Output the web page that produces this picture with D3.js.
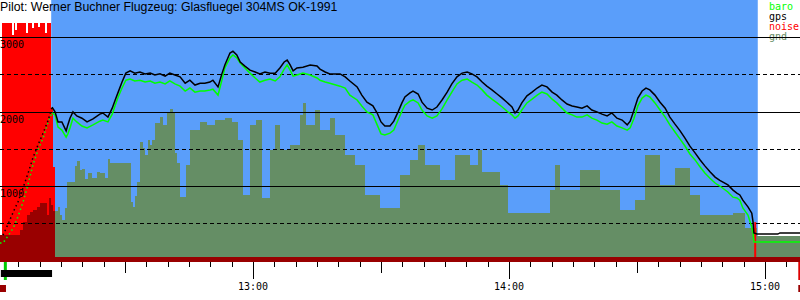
<!DOCTYPE html>
<html>
<head>
<meta charset="utf-8">
<script src="https://cdn.jsdelivr.net/npm/d3@7"></script>
<style>
  body { margin: 0; background: #fff; }
  svg { display: block; }
</style>
</head>
<body>
<div id="chart"></div>
<script>
// flight data, time in minutes after 12:00, altitude in metres
const title = "Pilot: Werner Buchner Flugzeug: Glasfluegel 304MS OK-1991";
const legendNames = ["baro", "gps", "noise", "gnd"];
const legendColors = ["#00ff00", "#000000", "#ff0000", "#658e65"];

const towTime = [0.7, 1.4, 2.6, 3.8, 4.9, 6.1, 7.3, 8.4, 9.6, 10.8, 12.0, 12.9];
const towGps  = [null, 340, 490, 650, 785, 975, 1175, 1375, 1550, 1710, 1885, 2060];
const towBaro = [235, 235, 330, 435, 585, 785, 1025, 1280, 1485, 1645, 1860, 1980];

const flightTime = [12.9, 13.6, 14.3, 15.2, 16.2, 16.6, 17.1, 17.8, 18.7, 19.9, 21.1, 22.5, 24.1, 24.8, 26.0, 27.0, 27.7, 28.4, 29.3, 30.2,
  31.2, 32.3, 33.5, 34.7, 35.9, 37.0, 38.2, 39.4, 40.5, 41.7, 42.9, 44.1, 45.2, 46.4, 47.6, 48.7, 49.9, 50.6, 51.8, 52.7,
  53.4, 54.6, 55.3, 56.2, 57.0, 58.1, 59.3, 60.5, 61.6, 62.8, 64.0, 65.2, 66.3, 67.3, 68.0, 68.7, 69.4, 70.3, 71.7, 73.4,
  75.0, 75.7, 76.9, 78.0, 80.4, 81.6, 82.7, 84.4, 85.5, 86.7, 88.1, 89.1, 90.0, 90.9, 92.1, 93.0, 94.0, 94.9, 95.6, 96.8,
  97.5, 98.7, 99.6, 100.8, 102.0, 103.1, 104.3, 105.5, 106.6, 107.8, 109.0, 110.2, 111.3, 112.5, 113.7, 114.8, 116.0, 117.2, 118.4, 119.5,
  120.7, 121.4, 122.1, 123.0, 124.2, 125.4, 126.6, 127.7, 128.9, 130.1, 131.2, 132.4, 133.6, 134.8, 135.9, 137.1, 138.3, 139.4, 140.6, 141.8,
  143.0, 144.1, 145.3, 146.5, 147.7, 148.4, 149.3, 150.2, 151.2, 152.1, 153.0, 154.2, 155.4, 156.6, 157.7, 158.9, 160.1, 161.2, 162.4, 163.6,
  164.8, 165.9, 167.1, 168.3, 169.4, 171.3, 172.5, 173.4, 174.1, 174.8, 176.0, 176.9, 177.2, 177.4, 178.1, 183.0, 183.5, 188.2];
const flightGps = [2060, 1995, 1860, 1860, 1740, 1820, 1910, 1995, 1940, 1910, 1860, 1900, 1965, 1980, 1925, 2045, 2155, 2260, 2395, 2515,
  2545, 2515, 2530, 2505, 2515, 2490, 2505, 2475, 2515, 2490, 2465, 2380, 2420, 2355, 2380, 2380, 2395, 2420, 2330, 2505,
  2625, 2785, 2810, 2760, 2665, 2610, 2555, 2530, 2505, 2530, 2515, 2515, 2585, 2665, 2690, 2625, 2545, 2585, 2595, 2625,
  2610, 2570, 2530, 2505, 2505, 2465, 2410, 2330, 2220, 2125, 2075, 1980, 1860, 1805, 1805, 1870, 1995, 2115, 2195, 2250,
  2275, 2235, 2125, 2045, 2020, 2060, 2155, 2260, 2370, 2465, 2515, 2530, 2505, 2465, 2395, 2340, 2290, 2235, 2180, 2125,
  2060, 1980, 2020, 2115, 2210, 2260, 2315, 2355, 2330, 2260, 2220, 2155, 2100, 2075, 2060, 2045, 2075, 2020, 1995, 1965,
  1940, 1980, 1910, 1885, 1820, 1870, 2020, 2180, 2275, 2315, 2290, 2220, 2125, 2045, 1925, 1830, 1740, 1645, 1535, 1445,
  1350, 1270, 1190, 1120, 1075, 1015, 945, 905, 880, 810, 720, 635, 515, 370, 355, 355, 370, 370];
const flightBaro = [1980, 1955, 1790, 1750, 1655, 1700, 1780, 1910, 1860, 1805, 1780, 1820, 1870, 1885, 1860, 1965, 2085, 2195, 2315, 2420,
  2435, 2410, 2420, 2395, 2410, 2380, 2395, 2370, 2410, 2370, 2340, 2275, 2315, 2260, 2275, 2275, 2290, 2300, 2220, 2420,
  2585, 2720, 2760, 2720, 2650, 2585, 2515, 2450, 2395, 2420, 2435, 2410, 2465, 2570, 2625, 2555, 2475, 2490, 2515, 2490,
  2450, 2420, 2395, 2380, 2340, 2315, 2220, 2155, 2075, 1995, 1955, 1820, 1700, 1685, 1710, 1750, 1885, 2005, 2085, 2140,
  2155, 2115, 2020, 1940, 1910, 1940, 2035, 2155, 2260, 2370, 2420, 2435, 2395, 2355, 2290, 2220, 2165, 2115, 2060, 2005,
  1955, 1910, 1940, 2020, 2115, 2165, 2220, 2260, 2235, 2165, 2115, 2045, 1980, 1955, 1925, 1925, 1955, 1910, 1885, 1845,
  1830, 1860, 1805, 1780, 1750, 1780, 1910, 2075, 2180, 2220, 2195, 2115, 2020, 1925, 1820, 1725, 1630, 1540, 1430, 1350,
  1255, 1175, 1105, 1040, 1000, 920, 850, 840, 810, 705, 610, 450, 370, 250, 250, 250, 250, 250];

const gndTime = [0.7, 5.4, 6.1, 7.0, 7.7, 8.4, 9.4, 10.1, 11.0, 11.7, 12.2, 12.7, 13.1, 14.3, 14.8, 15.2, 15.9, 16.4, 18.3, 18.7,
  19.5, 19.9, 20.6, 21.3, 22.3, 23.4, 24.1, 25.3, 26.0, 26.5, 31.4, 31.9, 32.3, 32.8, 33.5, 34.2, 34.7, 35.4, 35.9, 36.3,
  37.0, 38.2, 38.9, 39.8, 40.5, 41.2, 41.7, 42.2, 42.9, 44.3, 45.2, 47.6, 49.2, 51.1, 53.4, 55.1, 56.5, 57.7, 59.3, 60.7,
  62.1, 64.0, 65.2, 66.3, 68.7, 71.0, 71.7, 72.4, 74.5, 75.7, 78.0, 79.2, 81.6, 83.9, 86.2, 89.8, 94.5, 96.8, 98.7, 100.3,
  103.8, 107.3, 110.9, 112.7, 113.7, 117.9, 119.8, 129.6, 130.8, 132.0, 136.6, 141.3, 146.0, 149.5, 151.9, 155.4, 158.9, 162.4, 164.8, 167.6,
  172.5, 175.3, 178.1, 188.2];
const gndAlt = [342, 409, 517, 611, 651, 678, 718, 772, 772, 611, 839, 745, 664, 718, 611, 544, 705, 1054, 1268, 1335,
  1215, 1228, 1094, 1174, 1107, 1188, 1174, 1107, 1362, 1308, 785, 718, 866, 1054, 1590, 1510, 1416, 1617, 1550, 1617,
  1845, 1926, 1818, 1993, 2033, 1993, 1443, 1308, 852, 1282, 1751, 1859, 1818, 1885, 1912, 1859, 1617, 879, 1818, 1885,
  839, 1483, 1818, 1483, 1550, 1953, 2114, 1818, 2020, 1751, 1912, 1684, 1416, 1282, 879, 705, 1148, 1349, 1550, 1282,
  1080, 1416, 1282, 1483, 1188, 1013, 637, 946, 1282, 946, 1215, 946, 678, 812, 1416, 1013, 1241, 879, 611, 611,
  637, 436, 329, 329];

const noiseTime = [1.1, 3.5, 3.9, 4.3, 4.6, 6.9, 7.2, 7.4, 7.6, 8.3, 8.6, 9.7, 10.0, 11.25, 11.7, 12.7, 13.1, 13.6];
const noiseVal = [3190, 3025, 3190, 3095, 3190, 3055, 3190, 3025, 3190, 3120, 3190, 3135, 3190, 3055, 3190, 2045, 1255, 0];

const altGrid = [500, 1000, 1500, 2000, 2500, 3000];
const altLabels = [1000, 2000, 3000];
const timeStart = 0.7, timeEnd = 188.2;
const releaseTime = 12.7, landingTime = 178.3;
const landingMark = 177.7, landingMarkAlt = 515;
const takeoffMark = 1.6;
const towBar = [0.9, 12.9];
const engineBar = [0.7, 2.1];
const endMark = 187.8;

const width = 800, height = 300;
const plotBottom = 257;
const base = new Date(2021, 6, 1, 12, 0, 0);
const toDate = m => new Date(+base + m * 60000);

const x = d3.scaleTime()
    .domain([toDate(timeStart), toDate(timeEnd)])
    .range([0, width]);
const y = d3.scaleLinear()
    .domain([0, 3000])
    .range([260.5, 37]);

const svg = d3.select("#chart")
  .append("svg")
    .attr("width", width)
    .attr("height", height);

// blue background while in free flight
svg.append("rect")
    .attr("x", x(toDate(releaseTime)))
    .attr("y", 0)
    .attr("width", x(toDate(landingTime)) - x(toDate(releaseTime)))
    .attr("height", plotBottom)
    .attr("fill", "#5a9efa");

// noise
const noise = noiseTime.map((t, i) => ({ t: toDate(t), v: noiseVal[i] }));
svg.append("path")
    .datum(noise)
    .attr("fill", "#ff0000")
    .attr("shape-rendering", "crispEdges")
    .attr("d", d3.area().curve(d3.curveStepAfter)
      .x(d => x(d.t)).y0(plotBottom).y1(d => y(d.v)));

// ground area, dark red while the engine / tow noise is there
const gnd = gndTime.map((t, i) => ({ t: toDate(t), v: gndAlt[i] }));
const defs = svg.append("defs");
const cut = x(toDate(13.6));
defs.append("clipPath").attr("id", "clipTow")
  .append("rect").attr("x", 0).attr("y", 0).attr("width", cut).attr("height", height);
defs.append("clipPath").attr("id", "clipFree")
  .append("rect").attr("x", cut).attr("y", 0).attr("width", width - cut).attr("height", height);
const gndArea = d3.area().curve(d3.curveStepAfter)
    .x(d => x(d.t)).y0(plotBottom).y1(d => y(d.v));
svg.append("path").datum(gnd)
    .attr("fill", "#990000").attr("clip-path", "url(#clipTow)")
    .attr("shape-rendering", "crispEdges")
    .attr("d", gndArea);
svg.append("path").datum(gnd)
    .attr("fill", "#658e65").attr("clip-path", "url(#clipFree)")
    .attr("shape-rendering", "crispEdges")
    .attr("d", gndArea);

// landing marker
svg.append("line")
    .attr("x1", x(toDate(landingMark))).attr("x2", x(toDate(landingMark)))
    .attr("y1", y(landingMarkAlt)).attr("y2", plotBottom)
    .attr("stroke", "#ff0000").attr("stroke-width", 2);

// legend
svg.selectAll(".legend")
  .data(legendNames)
  .enter().append("text")
    .attr("class", "legend")
    .attr("x", 769)
    .attr("y", (d, i) => 10 + i * 10)
    .attr("fill", (d, i) => legendColors[i])
    .style("font", "10px 'DejaVu Sans Mono', monospace")
    .text(d => d);

// altitude grid
svg.selectAll(".grid")
  .data(altGrid)
  .enter().append("line")
    .attr("x1", 0).attr("x2", width)
    .attr("y1", d => Math.round(y(d)) + 0.5).attr("y2", d => Math.round(y(d)) + 0.5)
    .attr("stroke", "#000")
    .attr("stroke-dasharray", d => d % 1000 ? "4,3" : null);

svg.selectAll(".altlabel")
  .data(altLabels)
  .enter().append("text")
    .attr("x", 0)
    .attr("y", d => Math.round(y(d)) + 11)
    .style("font", "10px 'DejaVu Sans Mono', monospace")
    .text(d => d);

// altitude traces
const line = d3.line()
    .defined(d => d.v != null)
    .x(d => x(d.t)).y(d => y(d.v));
const towG = towTime.map((t, i) => ({ t: toDate(t), v: towGps[i] }));
const towB = towTime.map((t, i) => ({ t: toDate(t), v: towBaro[i] }));
const fG = flightTime.map((t, i) => ({ t: toDate(t), v: flightGps[i] }));
const fB = flightTime.map((t, i) => ({ t: toDate(t), v: flightBaro[i] }));

svg.append("path").datum(towB)
    .attr("fill", "none").attr("stroke", "#00ff00").attr("stroke-width", 1.5)
    .attr("stroke-dasharray", "1.5,3").attr("d", line);
svg.append("path").datum(towG)
    .attr("fill", "none").attr("stroke", "#000").attr("stroke-width", 1.5)
    .attr("stroke-dasharray", "1.5,3").attr("d", line);
svg.append("path").datum(fB)
    .attr("fill", "none").attr("stroke", "#00ff00").attr("stroke-width", 1.5)
    .attr("d", line);
svg.append("path").datum(fG)
    .attr("fill", "none").attr("stroke", "#000").attr("stroke-width", 1.5)
    .attr("d", line);

// bottom bar and time axis
svg.append("rect")
    .attr("x", 0).attr("y", plotBottom)
    .attr("width", width).attr("height", 5)
    .attr("fill", "#990000");

const ticks = x.ticks(d3.timeMinute.every(5));
svg.selectAll(".tick")
  .data(ticks)
  .enter().append("line")
    .attr("x1", d => Math.round(x(d)) + 0.5).attr("x2", d => Math.round(x(d)) + 0.5)
    .attr("y1", 262)
    .attr("y2", d => d.getMinutes() === 0 ? 279 : d.getMinutes() === 30 ? 273 : 267)
    .attr("stroke", "#000");

const fmt = d3.timeFormat("%H:%M");
svg.selectAll(".hour")
  .data(x.ticks(d3.timeHour.every(1)))
  .enter().append("text")
    .attr("x", d => x(d))
    .attr("y", 290)
    .attr("text-anchor", "middle")
    .style("font", "10px 'DejaVu Sans Mono', monospace")
    .text(d => fmt(d));

// event markers below the axis
svg.append("rect")
    .attr("x", x(toDate(takeoffMark))).attr("y", 262)
    .attr("width", 3).attr("height", 18)
    .attr("fill", "#00cc00");
svg.append("rect")
    .attr("x", x(toDate(towBar[0]))).attr("y", 270)
    .attr("width", x(toDate(towBar[1])) - x(toDate(towBar[0]))).attr("height", 7)
    .attr("fill", "#000");
svg.append("rect")
    .attr("x", x(toDate(engineBar[0]))).attr("y", 285)
    .attr("width", x(toDate(engineBar[1])) - x(toDate(engineBar[0]))).attr("height", 7)
    .attr("fill", "#990000");
svg.append("rect")
    .attr("x", x(toDate(endMark))).attr("y", 262)
    .attr("width", 3).attr("height", 18)
    .attr("fill", "#dd0000");
svg.append("rect")
    .attr("x", x(toDate(endMark))).attr("y", 285)
    .attr("width", 3).attr("height", 7)
    .attr("fill", "#990000");

// title
svg.append("text")
    .attr("x", 0).attr("y", 11)
    .style("font", "12.3px 'Liberation Sans', Arial, sans-serif")
    .text(title);
</script>
</body>
</html>
